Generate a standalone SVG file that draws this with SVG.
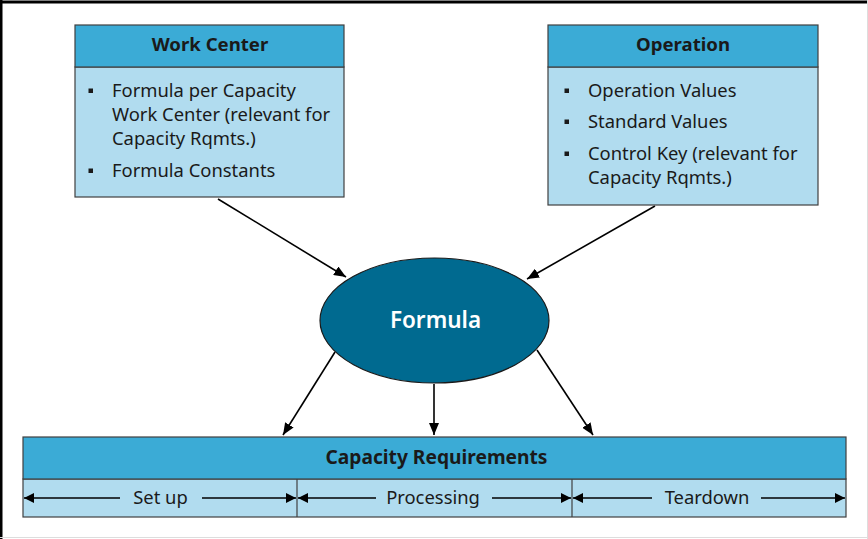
<svg xmlns="http://www.w3.org/2000/svg" width="868" height="539" viewBox="0 0 868 539">
<defs>
<style>
.hdr{fill:#3BABD6;stroke:#404040;stroke-width:1.2}
.body{fill:#B1DCEF;stroke:#404040;stroke-width:1.2}
.t{font-family:"Noto Sans","Open Sans",sans-serif;font-size:18.4px;fill:#1a1a1a}
.h{font-family:"Noto Sans","Open Sans",sans-serif;font-size:18.6px;font-weight:bold;fill:#1a1a1a;text-anchor:middle}
.c{stroke:#000;stroke-width:1.6;fill:none}
.d{stroke:#000;stroke-width:1.4;fill:none}
</style>
<marker id="ah" viewBox="0 0 12 10" refX="12" refY="5" markerWidth="12" markerHeight="10" markerUnits="userSpaceOnUse" orient="auto">
<path d="M0,0 L12,5 L0,10 z" fill="#000"/>
</marker>
<marker id="as" viewBox="0 0 10 10" refX="10" refY="5" markerWidth="10" markerHeight="10" markerUnits="userSpaceOnUse" orient="auto">
<path d="M0,0 L10,5 L0,10 z" fill="#000"/>
</marker>
</defs>
<rect x="0" y="0" width="868" height="539" fill="#fff"/>
<line x1="0" y1="2" x2="868" y2="2" stroke="#000" stroke-width="3"/>
<line x1="1" y1="0" x2="1" y2="539" stroke="#000" stroke-width="3"/>
<line x1="867.5" y1="0" x2="867.5" y2="539" stroke="#ddd" stroke-width="1"/>
<line x1="0" y1="537.5" x2="868" y2="537.5" stroke="#ddd" stroke-width="1"/>

<g id="connectors">
<line class="c" x1="218" y1="199" x2="346" y2="277" marker-end="url(#ah)"/>
<line class="c" x1="655" y1="206" x2="527" y2="279" marker-end="url(#ah)"/>
<line class="c" x1="335" y1="352" x2="283" y2="435" marker-end="url(#ah)"/>
<line class="c" x1="434" y1="384" x2="434" y2="435" marker-end="url(#ah)"/>
<line class="c" x1="537" y1="350" x2="593" y2="435" marker-end="url(#ah)"/>
</g>

<g id="work-center">
<rect class="body" x="75" y="67" width="269" height="130"/>
<rect class="hdr" x="75" y="25" width="269" height="42"/>
<text class="h" x="210" y="51">Work Center</text>
<rect x="88.5" y="88.5" width="4.5" height="4.5" fill="#1a1a1a"/>
<text class="t" x="112" y="97">Formula per Capacity</text>
<text class="t" x="112" y="121">Work Center (relevant for</text>
<text class="t" x="112" y="145">Capacity Rqmts.)</text>
<rect x="88.5" y="168.5" width="4.5" height="4.5" fill="#1a1a1a"/>
<text class="t" x="112" y="177">Formula Constants</text>
</g>

<g id="operation">
<rect class="body" x="548" y="67" width="270" height="138"/>
<rect class="hdr" x="548" y="25" width="270" height="42"/>
<text class="h" x="683" y="51">Operation</text>
<rect x="564.5" y="88.5" width="4.5" height="4.5" fill="#1a1a1a"/>
<text class="t" x="588" y="97">Operation Values</text>
<rect x="564.5" y="119.5" width="4.5" height="4.5" fill="#1a1a1a"/>
<text class="t" x="588" y="128">Standard Values</text>
<rect x="564.5" y="151.5" width="4.5" height="4.5" fill="#1a1a1a"/>
<text class="t" x="588" y="160">Control Key (relevant for</text>
<text class="t" x="588" y="184">Capacity Rqmts.)</text>
</g>

<g id="formula">
<ellipse cx="434.5" cy="320.5" rx="114.5" ry="62.5" fill="#006A90" stroke="#1a1a1a" stroke-width="1.2"/>
<text x="435.5" y="328" text-anchor="middle" font-family="Noto Sans, Open Sans, sans-serif" font-size="22.5" font-weight="600" fill="#fff">Formula</text>
</g>

<g id="capacity-requirements">
<rect class="body" x="23" y="479" width="823" height="38"/>
<rect class="hdr" x="23" y="437" width="823" height="42"/>
<text class="h" x="436.5" y="464" style="font-size:19.2px">Capacity Requirements</text>
<line x1="297" y1="479" x2="297" y2="517" stroke="#404040" stroke-width="1.2"/>
<line x1="572" y1="479" x2="572" y2="517" stroke="#404040" stroke-width="1.2"/>
<line class="d" x1="120" y1="498" x2="24" y2="498" marker-end="url(#as)"/>
<line class="d" x1="202" y1="498" x2="296" y2="498" marker-end="url(#as)"/>
<text class="t" x="160.5" y="504" text-anchor="middle">Set up</text>
<line class="d" x1="376" y1="498" x2="298" y2="498" marker-end="url(#as)"/>
<line class="d" x1="492" y1="498" x2="571" y2="498" marker-end="url(#as)"/>
<text class="t" x="433" y="504" text-anchor="middle">Processing</text>
<line class="d" x1="652" y1="498" x2="573" y2="498" marker-end="url(#as)"/>
<line class="d" x1="761" y1="498" x2="845" y2="498" marker-end="url(#as)"/>
<text class="t" x="707" y="504" text-anchor="middle">Teardown</text>
</g>
</svg>
